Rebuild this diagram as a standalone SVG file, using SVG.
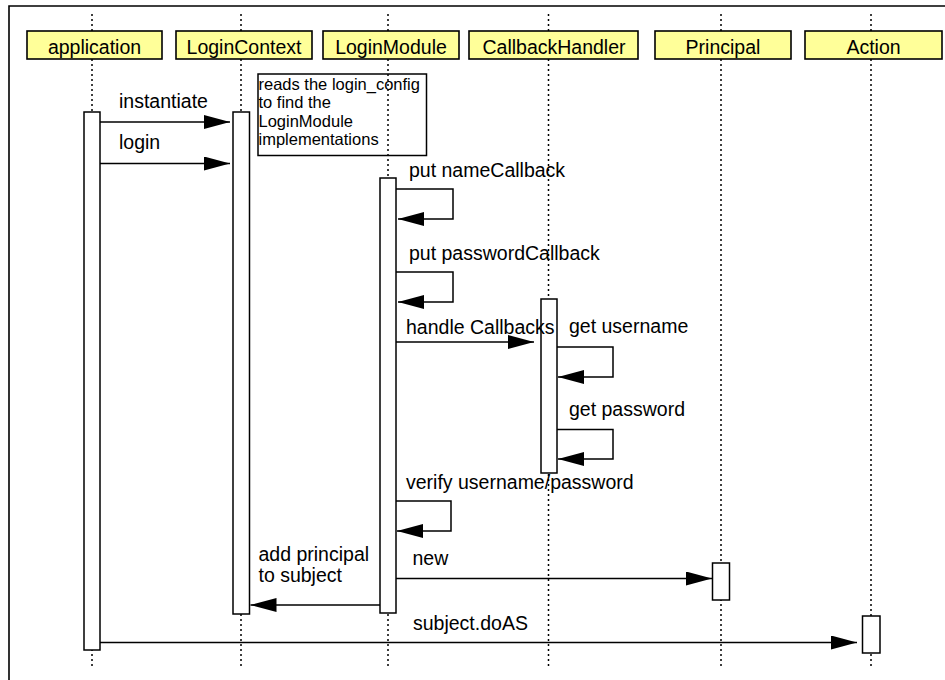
<svg xmlns="http://www.w3.org/2000/svg" width="945" height="680" viewBox="0 0 945 680">
<defs>
<style>
.hdr{fill:#ffff99;stroke:#000;stroke-width:1.6}
.life{stroke:#000;stroke-width:1.5;stroke-dasharray:2,3;fill:none}
.bar{fill:#fff;stroke:#000;stroke-width:1.5}
.msg{fill:none;stroke:#000;stroke-width:1.5;marker-end:url(#ah)}
.notebox{fill:none;stroke:#000;stroke-width:1.5}
text{font-family:"Liberation Sans",Arial,sans-serif;fill:#000}
.ht{font-size:19.5px;text-anchor:middle}
.lbl{font-size:19.5px}
.note{font-size:16.5px}
</style>
<marker id="ah" markerUnits="userSpaceOnUse" markerWidth="27" markerHeight="14" refX="26" refY="7" orient="auto" viewBox="0 0 27 14"><path d="M0,0 L26,7 L0,14 z" fill="#000"/></marker>
</defs>
<rect width="945" height="680" fill="#fff"/>
<path d="M945,6 H9 V680" fill="none" stroke="#000" stroke-width="1.6"/>

<g id="node-application">
<line class="life" x1="92" y1="14" x2="92" y2="668"/>
<rect class="hdr" x="27" y="31" width="135" height="28"/>
<text class="ht" x="94.5" y="53.5">application</text>
<rect class="bar" x="84" y="112" width="16" height="538"/>
</g>
<g id="node-logincontext">
<line class="life" x1="241" y1="14" x2="241" y2="668"/>
<rect class="hdr" x="176" y="31" width="136" height="28"/>
<text class="ht" x="244" y="53.5">LoginContext</text>
<rect class="bar" x="233" y="112" width="16.5" height="502"/>
</g>
<g id="node-loginmodule">
<line class="life" x1="388" y1="14" x2="388" y2="668"/>
<rect class="hdr" x="323" y="31" width="136" height="28"/>
<text class="ht" x="391" y="53.5">LoginModule</text>
<rect class="bar" x="380" y="178" width="16" height="435"/>
</g>
<g id="node-callbackhandler">
<line class="life" x1="548.5" y1="14" x2="548.5" y2="668"/>
<rect class="hdr" x="469" y="31" width="169" height="28"/>
<text class="ht" x="554" y="53.5">CallbackHandler</text>
<rect class="bar" x="541" y="299" width="16" height="174"/>
</g>
<g id="node-principal">
<line class="life" x1="721" y1="14" x2="721" y2="668"/>
<rect class="hdr" x="655" y="31" width="136" height="28"/>
<text class="ht" x="723" y="53.5">Principal</text>
<rect class="bar" x="712.5" y="563" width="17" height="37"/>
</g>
<g id="node-action">
<line class="life" x1="871" y1="14" x2="871" y2="668"/>
<rect class="hdr" x="805" y="31" width="137" height="28"/>
<text class="ht" x="873.5" y="53.5">Action</text>
<rect class="bar" x="862.5" y="616" width="17.5" height="37"/>
</g>
<g id="node-note">
<rect class="notebox" x="258" y="74" width="168.5" height="81.5"/>
<text class="note" x="258.5" y="90">reads the login_config</text>
<text class="note" x="258.5" y="108.3">to find the</text>
<text class="note" x="258.5" y="126.7">LoginModule</text>
<text class="note" x="258.5" y="145">implementations</text>
</g>

<g id="connectors">
<path class="msg" d="M100,122 H230"/>
<text class="lbl" x="119" y="108">instantiate</text>
<path class="msg" d="M100,163.5 H230"/>
<text class="lbl" x="119" y="148.5">login</text>
<path class="msg" d="M396,189 H453 V219 H398"/>
<text class="lbl" x="409" y="177">put nameCallback</text>
<path class="msg" d="M396,272 H453 V302 H398"/>
<text class="lbl" x="409" y="259.5">put passwordCallback</text>
<path class="msg" d="M396,342 H534"/>
<text class="lbl" x="406" y="333.5">handle Callbacks</text>
<path class="msg" d="M557,347 H613 V377 H558"/>
<text class="lbl" x="569" y="333">get username</text>
<path class="msg" d="M557,429.5 H613 V459 H558"/>
<text class="lbl" x="569" y="416">get password</text>
<path class="msg" d="M396,501 H451 V531 H397"/>
<text class="lbl" x="406" y="488.5">verify username/password</text>
<path class="msg" d="M396,578.5 H712"/>
<text class="lbl" x="412.5" y="565">new</text>
<path class="msg" d="M380,605 H250.5"/>
<text class="lbl" x="258.5" y="560.5">add principal</text>
<text class="lbl" x="258.5" y="582">to subject</text>
<path class="msg" d="M100,642.5 H857"/>
<text class="lbl" x="413" y="630">subject.doAS</text>
</g>
</svg>
